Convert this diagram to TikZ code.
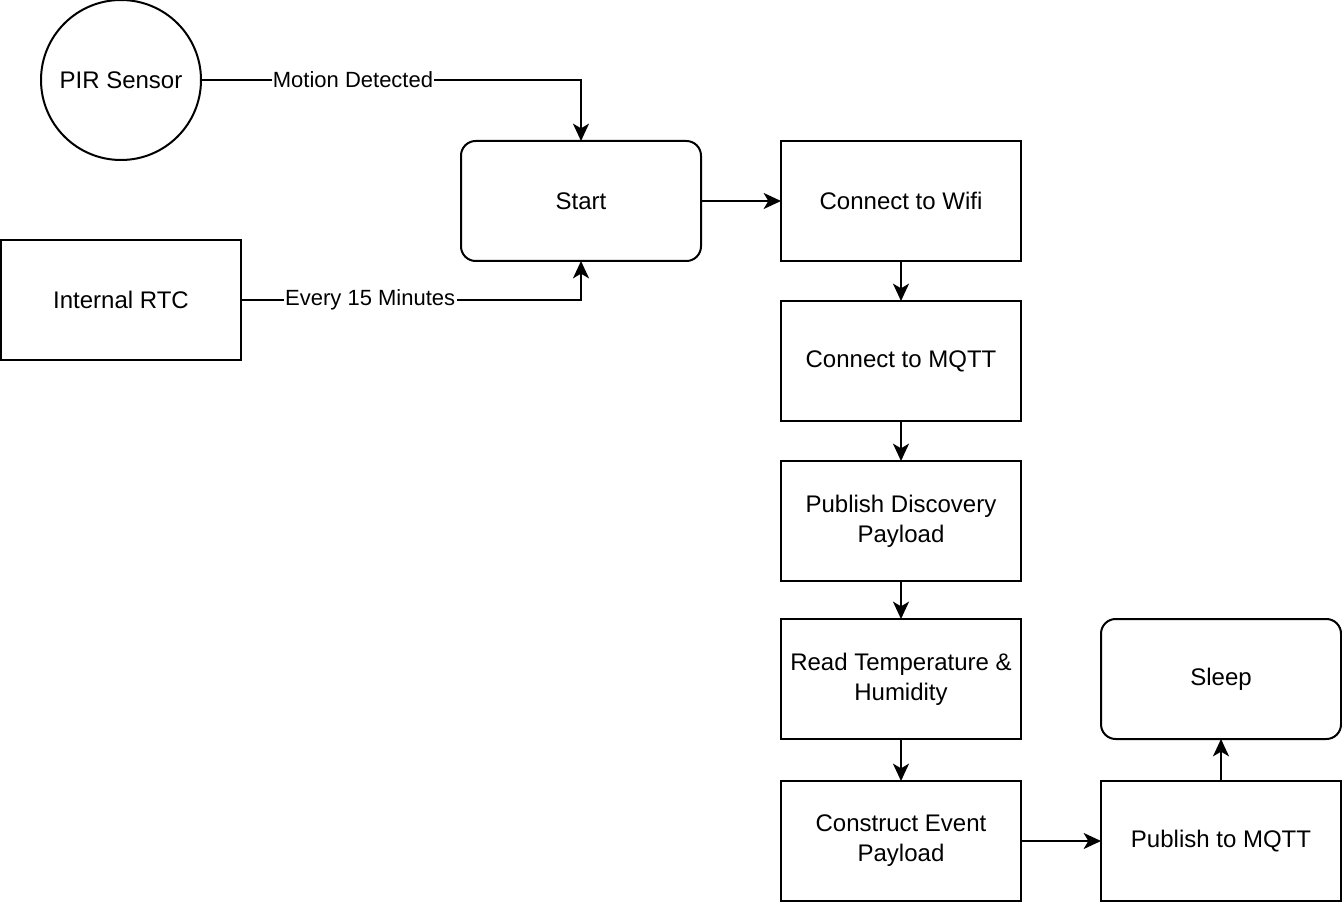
\documentclass[tikz,border=0pt]{standalone}
\usepackage{fontspec}
\setmainfont{Liberation Sans}
\usetikzlibrary{arrows.meta,positioning,shapes.geometric}
\tikzset{
  box/.style={draw, line width=1.5pt, align=center, minimum width=180pt, minimum height=90pt, outer sep=0pt, font=\fontsize{18}{22.5}\selectfont},
  rbox/.style={box, rounded corners=11pt},
  circ/.style={circle, draw, line width=1.5pt, minimum size=120pt, outer sep=0pt, font=\fontsize{18}{22.5}\selectfont},
  line/.style={-{Stealth[length=13pt, width=12pt, inset=3.5pt]}, line width=1.5pt},
  lbl/.style={fill=white, inner sep=1pt, font=\fontsize{16.5}{20}\selectfont}
}

\begin{document}
\begin{tikzpicture}[x=0.75pt, y=-0.75pt, node distance=30pt]
        \useasboundingbox (0,0) rectangle (1342,902);
        % triggers
        \node[circ] (pir) at (121,80) {PIR Sensor};
        \node[box] (rtc) at (121,300) {Internal RTC};
        % main flow
        \node[box] (wifi) at (901,201) {Connect to Wifi};
        \node[rbox, left=60pt of wifi] (start) {Start};
        \node[box, below=of wifi] (mqtt) {Connect to MQTT};
        \node[box, below=of mqtt] (disc) {Publish Discovery\\Payload};
        \node[box, below=28.5pt of disc] (read) {Read Temperature \&\\Humidity};
        \node[box, below=31.5pt of read] (event) {Construct Event\\Payload};
        \node[box, right=60pt of event] (pub) {Publish to MQTT};
        \node[rbox, above=31.5pt of pub] (sleep) {Sleep};
        \draw[line] (pir) -| node[lbl, pos=0.2] {Motion Detected} (start);
        \draw[line] (rtc) -| node[lbl, pos=0.19] {Every 15 Minutes} (start);
        \draw[line] (start) -- (wifi);
        \draw[line] (wifi) -- (mqtt);
        \draw[line] (mqtt) -- (disc);
        \draw[line] (disc) -- (read);
        \draw[line] (read) -- (event);
        \draw[line] (event) -- (pub);
        \draw[line] (pub) -- (sleep);
      \end{tikzpicture}
\end{document}
